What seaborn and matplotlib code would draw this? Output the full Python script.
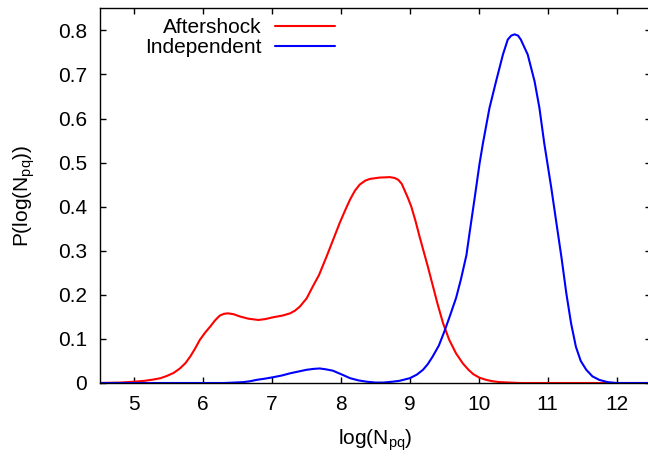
import matplotlib
matplotlib.use('agg')
import matplotlib.pyplot as plt
import pandas as pd
import seaborn as sns

# values
after_x = [4.5, 4.8, 5.0, 5.15, 5.28, 5.38, 5.47, 5.57, 5.66, 5.74, 5.81, 5.88, 5.95, 6.03, 6.10,
           6.17, 6.24, 6.30, 6.36, 6.44, 6.53, 6.65, 6.80, 6.90, 7.01, 7.15, 7.26, 7.33, 7.40,
           7.50, 7.59, 7.68, 7.79, 7.88, 7.98, 8.06, 8.13, 8.20, 8.27, 8.35, 8.42, 8.56, 8.71,
           8.78, 8.83, 8.88, 8.92, 8.97, 9.02, 9.08, 9.14, 9.20, 9.26, 9.32, 9.40, 9.48, 9.57,
           9.67, 9.77, 9.85, 9.92, 10.01, 10.11, 10.20, 10.30, 10.45, 10.6, 12.5]
after_y = [0.0, 0.001, 0.003, 0.005, 0.008, 0.011, 0.016, 0.023, 0.033, 0.045, 0.06, 0.078, 0.098,
           0.115, 0.128, 0.142, 0.153, 0.157, 0.158, 0.156, 0.151, 0.146, 0.143, 0.145, 0.149,
           0.153, 0.158, 0.164, 0.173, 0.192, 0.219, 0.245, 0.287, 0.323, 0.363, 0.392, 0.416,
           0.436, 0.450, 0.459, 0.463, 0.466, 0.467, 0.465, 0.461, 0.452, 0.438, 0.420, 0.400,
           0.368, 0.332, 0.298, 0.264, 0.228, 0.180, 0.136, 0.098, 0.067, 0.044, 0.030, 0.020,
           0.012, 0.007, 0.004, 0.002, 0.001, 0.0, 0.0]

indep_x = [4.5, 6.3, 6.45, 6.58, 6.68, 6.77, 6.90, 7.01, 7.14, 7.26, 7.38, 7.50, 7.60, 7.69, 7.78,
           7.88, 8.00, 8.13, 8.25, 8.37, 8.50, 8.61, 8.75, 8.85, 9.00, 9.10, 9.19, 9.26, 9.33,
           9.42, 9.50, 9.58, 9.67, 9.74, 9.82, 9.87, 9.94, 10.01, 10.06, 10.155, 10.25, 10.35,
           10.42, 10.47, 10.52, 10.57, 10.61, 10.71, 10.81, 10.88, 10.95, 11.05, 11.12, 11.20,
           11.27, 11.34, 11.41, 11.48, 11.56, 11.65, 11.75, 11.87, 12.0, 12.5]
indep_y = [0.0, 0.0, 0.001, 0.002, 0.004, 0.007, 0.010, 0.013, 0.017, 0.022, 0.026, 0.030, 0.032,
           0.033, 0.031, 0.028, 0.020, 0.011, 0.006, 0.003, 0.001, 0.001, 0.003, 0.005, 0.011,
           0.019, 0.030, 0.043, 0.060, 0.085, 0.117, 0.152, 0.193, 0.235, 0.290, 0.345, 0.420,
           0.497, 0.544, 0.624, 0.684, 0.745, 0.779, 0.788, 0.791, 0.788, 0.779, 0.745, 0.684,
           0.624, 0.544, 0.445, 0.370, 0.285, 0.204, 0.135, 0.082, 0.050, 0.030, 0.015, 0.007,
           0.002, 0.0, 0.0]

labels = ['Aftershock', 'Independent']
colors = ['#ff0000', '#0000ff']

df = pd.concat([
    pd.DataFrame({'x': after_x, 'y': after_y, 'kind': labels[0]}),
    pd.DataFrame({'x': indep_x, 'y': indep_y, 'kind': labels[1]}),
])

fs = 15
sns.set_style('ticks')
plt.rcParams['font.family'] = ['Liberation Sans', 'DejaVu Sans']
plt.rcParams['font.size'] = fs
plt.rcParams['mathtext.fontset'] = 'custom'
plt.rcParams['mathtext.rm'] = 'Liberation Sans'
for k in ['text.color', 'axes.labelcolor', 'xtick.color', 'ytick.color', 'axes.edgecolor']:
    plt.rcParams[k] = 'black'

fig = plt.figure(figsize=(6.48, 4.57), dpi=100)
ax = fig.add_axes([100 / 648, 74 / 457, 551 / 648, 374.7 / 457])

sns.lineplot(data=df, x='x', y='y', hue='kind', palette=dict(zip(labels, colors)),
             linewidth=1.5, sort=False, ax=ax)

ax.set_xlim(4.5, 12.5)
ax.set_ylim(0, 0.85)
ax.set_xticks(range(5, 13))
ax.set_yticks([0, 0.1, 0.2, 0.3, 0.4, 0.5, 0.6, 0.7, 0.8])
ax.set_yticklabels(['0', '0.1', '0.2', '0.3', '0.4', '0.5', '0.6', '0.7', '0.8'])
ax.tick_params(direction='in', length=4, width=1, top=True, right=True, labelsize=fs)
ax.tick_params(axis='y', pad=9.5)
ax.tick_params(axis='x', pad=9)
for s in ax.spines.values():
    s.set_linewidth(1)

ax.set_xlabel(r'log(N$_\mathregular{pq}$)', fontsize=fs, labelpad=9)
ax.set_ylabel(r'P(log(N$_\mathregular{pq}$))', fontsize=fs, labelpad=15)

ax.legend(loc='upper right', bbox_to_anchor=(0.4265, 0.974), frameon=False, markerfirst=False,
          handlelength=2.9, handletextpad=0.63, labelspacing=0.05, borderpad=0, borderaxespad=0,
          fontsize=fs)

fig.savefig('out.png', dpi=100)
